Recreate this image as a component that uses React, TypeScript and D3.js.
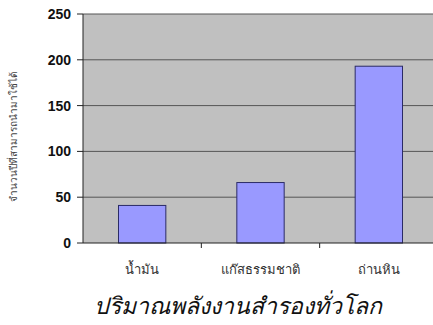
import React from "react";
import * as d3 from "d3";

const categories = ["น้ำมัน", "แก๊สธรรมชาติ", "ถ่านหิน"];
const values = [41, 66, 193];
const yTicks = [0, 50, 100, 150, 200, 250];
const yLabel = "จำนวนปีที่สามารถนำมาใช้ได้";
const title = "ปริมาณพลังงานสำรองทั่วโลก";

export default function App() {
  const W = 433, H = 325;
  const left = 83, right = 438, top = 14, bottom = 243;
  const band = d3.scaleBand<string>().domain(categories).range([left, right]);
  const barW = band.bandwidth() * 0.4;
  const y = d3.scaleLinear().domain([0, 250]).range([bottom, top]);
  return (
    <svg width={W} height={H} style={{ position: "absolute", left: 0, top: 0, background: "#fff" }}>
      <rect x={left} y={top} width={right - left} height={bottom - top} fill="#c0c0c0" />
      {yTicks.map((t) => (
        <g key={t}>
          {t > 0 && <line x1={left} x2={right} y1={y(t)} y2={y(t)} stroke="#555" strokeWidth={1} />}
          <line x1={left - 6} x2={left} y1={y(t)} y2={y(t)} stroke="#222" strokeWidth={1} />
          <text x={71} y={y(t)} dy="0.36em" textAnchor="end" fontFamily="Liberation Sans, Arial, sans-serif" fontWeight="bold" fontSize={14} fill="#111">{t}</text>
        </g>
      ))}
      {categories.map((c, i) => (
        <rect key={c} x={band(c)! + band.bandwidth() / 2 - barW / 2} y={y(values[i])} width={barW} height={bottom - y(values[i])} fill="#9999ff" stroke="#2b2b66" strokeWidth={1} />
      ))}
      <line x1={left} x2={left} y1={top} y2={bottom} stroke="#222" />
      <line x1={left} x2={right} y1={bottom} y2={bottom} stroke="#222" />
      {categories.map((c, i) => (
        <g key={"t" + c}>
          {i > 0 && <line x1={band(c)!} x2={band(c)!} y1={bottom} y2={bottom + 5} stroke="#222" />}
          <text x={band(c)! + band.bandwidth() / 2} y={274} textAnchor="middle" fontFamily="Tahoma, DejaVu Sans, sans-serif" fontSize={13} fill="#333">{c}</text>
        </g>
      ))}
      <text transform={`translate(17, 137) rotate(-90)`} textAnchor="middle" fontFamily="Tahoma, DejaVu Sans, sans-serif" fontSize={10} fill="#444">{yLabel}</text>
      <text x={238} y={314} textAnchor="middle" fontFamily="DejaVu Sans, sans-serif" fontStyle="italic" fontSize={23} fill="#111">{title}</text>
    </svg>
  );
}
